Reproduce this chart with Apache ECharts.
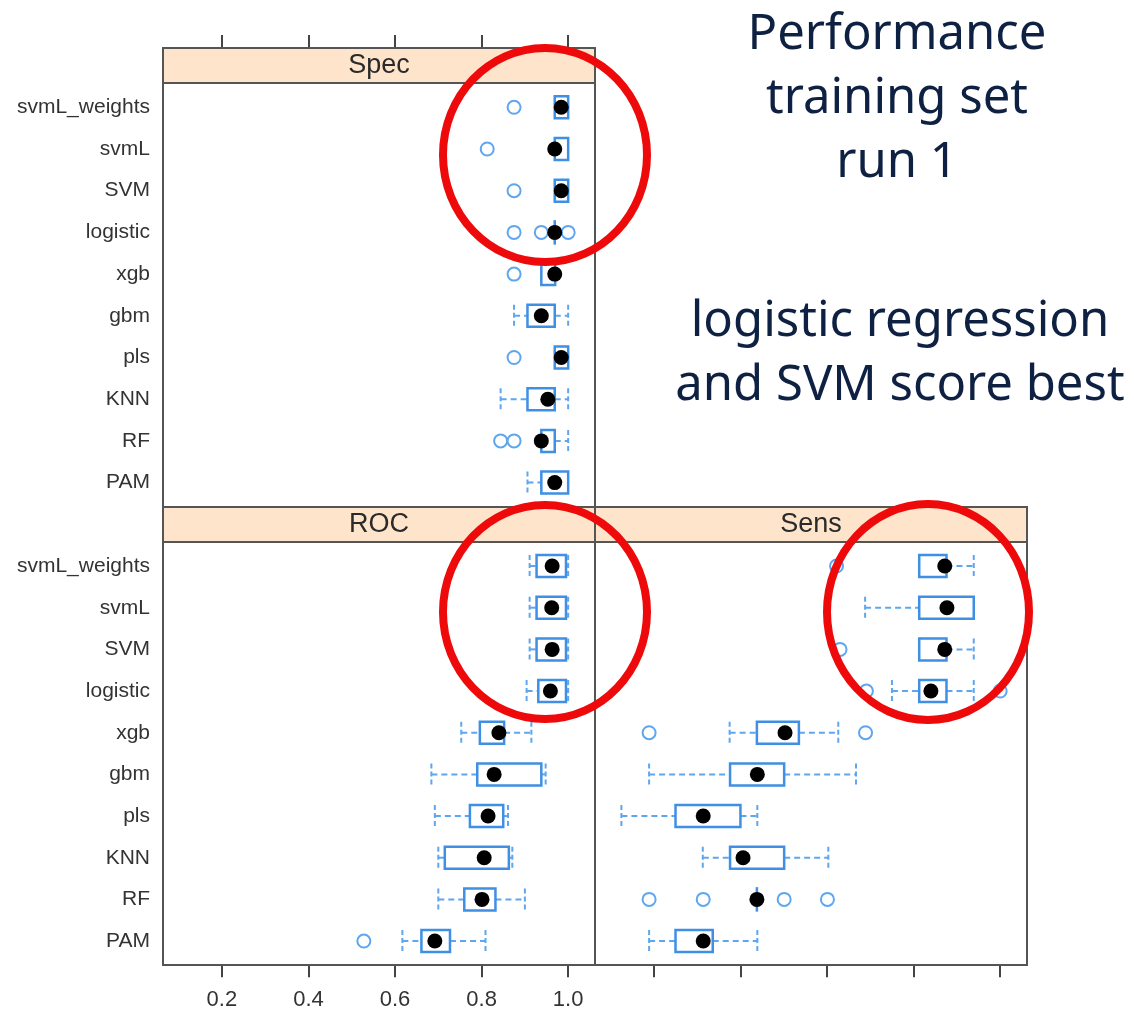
<!DOCTYPE html>
<html><head><meta charset="utf-8">
<script src="https://cdn.jsdelivr.net/npm/echarts@6/dist/echarts.min.js"></script>
<style>html,body{margin:0;padding:0;background:#fff}#c{width:1134px;height:1010px}</style>
</head><body><div id="c"></div>
<script>
// ---- data ----
const models = ['svmL_weights','svmL','SVM','logistic','xgb','gbm','pls','KNN','RF','PAM'];
const xTicks = [0.2, 0.4, 0.6, 0.8, 1.0];
const panelNames = ['Spec', 'ROC', 'Sens'];

const specLow  = [0.969, 0.969, 0.969, 0.969, 0.938, 0.875, 0.969, 0.844, 0.938, 0.906];
const specQ1   = [0.969, 0.969, 0.969, 0.969, 0.938, 0.906, 0.969, 0.906, 0.938, 0.938];
const specMed  = [0.984, 0.969, 0.984, 0.969, 0.969, 0.938, 0.984, 0.953, 0.938, 0.969];
const specQ3   = [1.000, 1.000, 1.000, 0.969, 0.970, 0.969, 1.000, 0.969, 0.969, 1.000];
const specHigh = [1.000, 1.000, 1.000, 0.969, 0.970, 1.000, 1.000, 1.000, 1.000, 1.000];
const specOut  = [[0.875,0],[0.813,1],[0.875,2],[0.875,3],[0.938,3],[1.0,3],[0.875,4],[0.875,6],[0.844,8],[0.875,8]];

const rocLow  = [0.911, 0.911, 0.911, 0.904, 0.753, 0.684, 0.692, 0.700, 0.700, 0.617];
const rocQ1   = [0.927, 0.927, 0.927, 0.931, 0.796, 0.790, 0.773, 0.715, 0.760, 0.661];
const rocMed  = [0.963, 0.962, 0.963, 0.959, 0.840, 0.829, 0.815, 0.806, 0.801, 0.692];
const rocQ3   = [0.995, 0.995, 0.995, 0.995, 0.852, 0.938, 0.850, 0.863, 0.832, 0.727];
const rocHigh = [1.000, 1.000, 1.000, 1.000, 0.915, 0.948, 0.861, 0.871, 0.900, 0.809];
const rocOut  = [[0.528,9]];

const sensLow  = [0.813, 0.688, 0.813, 0.750, 0.375, 0.189, 0.125, 0.313, 0.438, 0.189];
const sensQ1   = [0.813, 0.813, 0.813, 0.813, 0.438, 0.376, 0.250, 0.376, 0.438, 0.250];
const sensMed  = [0.872, 0.877, 0.872, 0.840, 0.503, 0.439, 0.314, 0.406, 0.438, 0.314];
const sensQ3   = [0.876, 0.939, 0.876, 0.876, 0.535, 0.501, 0.400, 0.501, 0.438, 0.336];
const sensHigh = [0.939, 0.939, 0.939, 0.939, 0.626, 0.667, 0.439, 0.603, 0.438, 0.439];
const sensOut  = [[0.622,0],[0.630,2],[0.691,3],[1.0,3],[0.189,4],[0.689,4],[0.189,8],[0.314,8],[0.501,8],[0.601,8]];

const titleLines = ['Performance', 'training set', 'run 1'];
const noteLines = ['logistic regression', 'and SVM score best'];

// ---- styling ----
const BOX = '#3f8fe4';
const WHISK = '#5ea6ef';
const BORDER = '#555555';
const STRIP = '#fde4cb';
const NAVY = '#0e2142';
const LABEL_FONT = '"Liberation Sans", Arial, sans-serif';
const XMIN = 0.064, XMAX = 1.062;

function boxData(low, q1, med, q3, high) {
  return models.map((m, i) => [i, low[i], q1[i], med[i], q3[i], high[i]]);
}

function renderBox(params, api) {
  const c = api.value(0);
  const pL = api.coord([api.value(1), c]);
  const p1 = api.coord([api.value(2), c]);
  const pM = api.coord([api.value(3), c]);
  const p3 = api.coord([api.value(4), c]);
  const pH = api.coord([api.value(5), c]);
  const y = pM[1], h = 22;
  const dash = {stroke: WHISK, lineWidth: 2, lineDash: [6, 4], fill: null};
  const cap = {stroke: WHISK, lineWidth: 2, lineDash: [5, 3], fill: null};
  const ch = [];
  if (p1[0] - pL[0] > 0.5) {
    ch.push({type: 'line', shape: {x1: pL[0], y1: y, x2: p1[0], y2: y}, style: dash});
    ch.push({type: 'line', shape: {x1: pL[0], y1: y - h / 2, x2: pL[0], y2: y + h / 2}, style: cap});
  }
  if (pH[0] - p3[0] > 0.5) {
    ch.push({type: 'line', shape: {x1: p3[0], y1: y, x2: pH[0], y2: y}, style: dash});
    ch.push({type: 'line', shape: {x1: pH[0], y1: y - h / 2, x2: pH[0], y2: y + h / 2}, style: cap});
  }
  ch.push({type: 'rect', shape: {x: p1[0], y: y - h / 2, width: Math.max(p3[0] - p1[0], 0.01), height: h},
           style: {fill: null, stroke: BOX, lineWidth: 2.5}});
  ch.push({type: 'circle', shape: {cx: pM[0], cy: y, r: 7.5}, style: {fill: '#000'}});
  return {type: 'group', children: ch};
}

const gridDefs = [
  {left: 163, top: 86.45, width: 432, height: 417, outerBoundsMode: 'none', containLabel: false},
  {left: 163, top: 545.2, width: 432, height: 416.7, outerBoundsMode: 'none', containLabel: false},
  {left: 595, top: 545.2, width: 432, height: 416.7, outerBoundsMode: 'none', containLabel: false}
];

const tickStyle = {color: '#444', width: 2};
const xAxes = [
  {gridIndex: 0, type: 'value', min: XMIN, max: XMAX, position: 'top', offset: 38.45,
   axisLine: {show: false}, splitLine: {show: false},
   axisTick: {show: true, customValues: xTicks, length: 13, lineStyle: tickStyle},
   axisLabel: {show: false}},
  {gridIndex: 1, type: 'value', min: XMIN, max: XMAX, position: 'bottom', offset: 3.3,
   axisLine: {show: false}, splitLine: {show: false},
   axisTick: {show: true, customValues: xTicks, length: 12, lineStyle: tickStyle},
   axisLabel: {show: true, customValues: xTicks, fontSize: 22, color: '#333', fontFamily: LABEL_FONT,
               margin: 24, formatter: v => Number(v).toFixed(1)}},
  {gridIndex: 2, type: 'value', min: XMIN, max: XMAX, position: 'bottom', offset: 3.3,
   axisLine: {show: false}, splitLine: {show: false},
   axisTick: {show: true, customValues: xTicks, length: 12, lineStyle: tickStyle},
   axisLabel: {show: false}}
];
const yAxes = [0, 1, 2].map(i => ({
  gridIndex: i, type: 'category', data: models, inverse: true, boundaryGap: true,
  axisLine: {show: false}, axisTick: {show: false}, splitLine: {show: false},
  axisLabel: {show: i < 2, fontSize: 21, color: '#333', fontFamily: LABEL_FONT, margin: 13}
}));

const panelData = [
  {box: boxData(specLow, specQ1, specMed, specQ3, specHigh), out: specOut},
  {box: boxData(rocLow, rocQ1, rocMed, rocQ3, rocHigh), out: rocOut},
  {box: boxData(sensLow, sensQ1, sensMed, sensQ3, sensHigh), out: sensOut}
];
const series = [];
panelData.forEach((p, i) => {
  series.push({
    type: 'scatter', xAxisIndex: i, yAxisIndex: i, data: p.out, symbol: 'circle', symbolSize: 13,
    itemStyle: {color: 'rgba(0,0,0,0)', borderColor: WHISK, borderWidth: 2, opacity: 1},
    z: 3, silent: true, animation: false
  });
  series.push({
    type: 'custom', xAxisIndex: i, yAxisIndex: i, data: p.box, renderItem: renderBox,
    encode: {x: [1, 2, 3, 4, 5], y: 0}, z: 4, silent: true, animation: false, clip: false
  });
});

// panels and strips
const panels = [
  {x: 163, y: 48, w: 432, h: 459},
  {x: 163, y: 507, w: 432, h: 458},
  {x: 595, y: 507, w: 432, h: 458}
];
const graphics = [];
panels.forEach((p, i) => {
  graphics.push({type: 'rect', shape: {x: p.x, y: p.y, width: p.w, height: 35},
                 style: {fill: STRIP, stroke: BORDER, lineWidth: 2}, z: 1});
  graphics.push({type: 'text', x: p.x + p.w / 2, y: p.y + 18,
                 style: {text: panelNames[i], font: '27px ' + LABEL_FONT, fill: '#2a2a2a',
                         textAlign: 'center', textVerticalAlign: 'middle'}, z: 2});
  graphics.push({type: 'rect', shape: {x: p.x, y: p.y, width: p.w, height: p.h},
                 style: {fill: null, stroke: BORDER, lineWidth: 2}, z: 20});
});
titleLines.forEach((t, i) => {
  graphics.push({type: 'text', x: 897, y: 35 + i * 64,
                 style: {text: t, font: '49px "Noto Sans", sans-serif', fill: NAVY,
                         textAlign: 'center', textVerticalAlign: 'middle'}, z: 30});
});
noteLines.forEach((t, i) => {
  graphics.push({type: 'text', x: 900, y: 322 + i * 64,
                 style: {text: t, font: '49px "Noto Sans", sans-serif', fill: NAVY,
                         textAlign: 'center', textVerticalAlign: 'middle'}, z: 30});
});
[[545, 155, 102, 107], [545, 612, 102, 107], [928, 612, 101, 108]].forEach(e => {
  graphics.push({type: 'ellipse', shape: {cx: e[0], cy: e[1], rx: e[2], ry: e[3]},
                 style: {fill: null, stroke: '#ee0a0a', lineWidth: 8}, z: 100});
});

const chart = echarts.init(document.getElementById('c'), null, {renderer: 'canvas'});
chart.setOption({
  animation: false,
  backgroundColor: '#fff',
  grid: gridDefs,
  xAxis: xAxes,
  yAxis: yAxes,
  series: series,
  graphic: {elements: graphics}
});
</script>
</body></html>
